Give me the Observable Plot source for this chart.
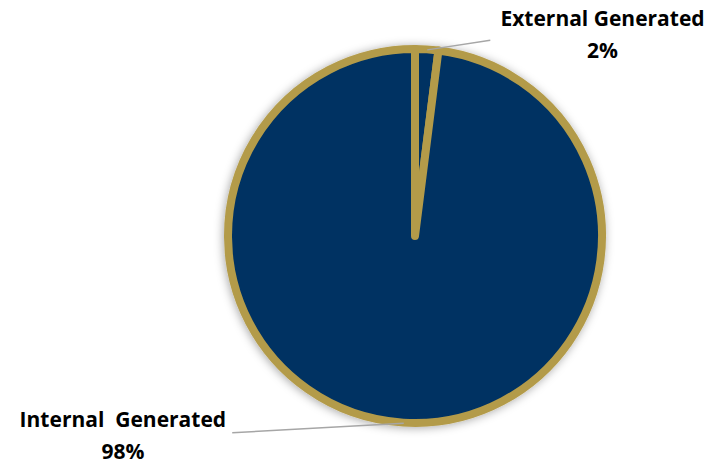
<!DOCTYPE html>
<html>
<head>
<meta charset="utf-8">
<script src="https://cdn.jsdelivr.net/npm/d3@7"></script>
<script src="https://cdn.jsdelivr.net/npm/@observablehq/plot@0.6"></script>
<style>
  html, body { margin: 0; padding: 0; background: #fff; }
  #chart { width: 716px; height: 464px; }
</style>
</head>
<body>
<div id="chart"></div>
<script>
// ---- data ----
const categories = ["External Generated", "Internal Generated"];
const shares = [2, 98];
const pctLabels = ["2%", "98%"];
const labelLines = ["External Generated", "Internal  Generated"];

// ---- layout (positions in pie units, radius = 1) ----
const cx = 415, cy = 236, R = 187;
const labelPos = [{x: 1.0, y: 1.097}, {x: -1.565, y: -1.049}];
const leaderEnd = [{x: 0.40, y: 1.05}, {x: -0.98, y: -1.05}];
const navy = "#003262", gold = "#B39B4A";

const arcs = d3.pie().sort(null).value(d => d)(shares);
const table = categories.map((c, i) => {
  const a = (arcs[i].startAngle + arcs[i].endAngle) / 2;
  return {
    name: c,
    text: labelLines[i] + "\n" + pctLabels[i],
    start: arcs[i].startAngle, end: arcs[i].endAngle,
    lx: labelPos[i].x, ly: labelPos[i].y,
    sx: Math.sin(a), sy: Math.cos(a),
    ex: leaderEnd[i].x, ey: leaderEnd[i].y
  };
});

function pieMark(index, scales) {
  const x = scales.x, y = scales.y;
  const ox = x(0), oy = y(0);
  const r = x(1) - x(0);
  const g = d3.create("svg:g");
  const defs = g.append("defs");
  const f = defs.append("filter").attr("id", "pieShadow")
    .attr("x", "-20%").attr("y", "-20%").attr("width", "140%").attr("height", "140%");
  f.append("feDropShadow").attr("dx", -1).attr("dy", 1).attr("stdDeviation", 5)
    .attr("flood-color", "#000").attr("flood-opacity", 0.35);
  const arc = d3.arc().innerRadius(0).outerRadius(r);
  g.append("g").attr("filter", "url(#pieShadow)")
    .attr("transform", `translate(${ox},${oy})`)
    .selectAll("path").data(table).join("path")
    .attr("d", d => arc({startAngle: d.start, endAngle: d.end}))
    .attr("fill", navy).attr("stroke", gold).attr("stroke-width", 8)
    .attr("stroke-linejoin", "round");
  return g.node();
}

const chart = Plot.plot({
  width: 716,
  height: 464,
  margin: 0,
  x: {domain: [-1, 1], range: [cx - R, cx + R], axis: null},
  y: {domain: [-1, 1], range: [cy + R, cy - R], axis: null},
  style: {background: "#fff", overflow: "visible"},
  marks: [
    pieMark,
    Plot.link(table, {x1: "sx", y1: "sy", x2: "ex", y2: "ey", stroke: "#A6A6A6", strokeWidth: 1.5}),
    Plot.text(table, {
      x: "lx", y: "ly", text: "text",
      fontSize: 21, fontWeight: "bold", fill: "#000",
      fontFamily: "'Open Sans', sans-serif",
      lineHeight: 1.52, textAnchor: "middle", lineAnchor: "middle"
    })
  ]
});
document.getElementById("chart").appendChild(chart);
</script>
</body>
</html>
